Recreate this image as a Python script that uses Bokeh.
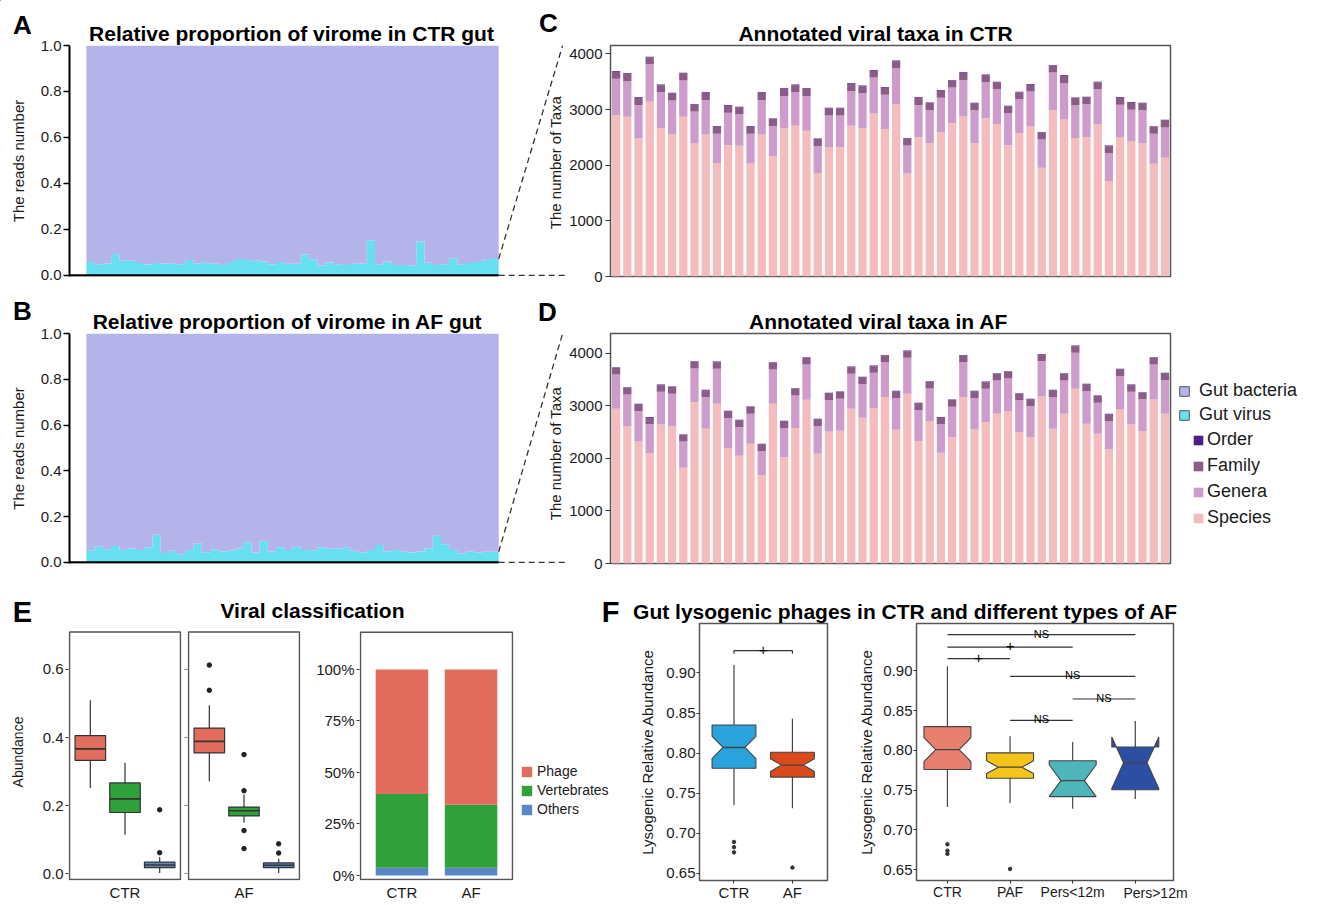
import math
from bokeh.plotting import figure
from bokeh.models import (Range1d, FixedTicker, NumeralTickFormatter, Legend, LegendItem, BoxAnnotation,
                          ColumnDataSource, CustomJSTickFormatter, GridBox)
from bokeh.layouts import row, column
from bokeh.embed import file_html
from bokeh.resources import INLINE
from bokeh.core.properties import value, field

FONT = "Liberation Sans"
TXT = "#1a1a1a"

# ===================== DATA =====================
# A / B : proportion of gut-virus reads per sample (remainder = gut bacteria)
virus_ctr = [0.059, 0.049, 0.052, 0.093, 0.064, 0.064, 0.054, 0.048, 0.054, 0.052,
             0.051, 0.049, 0.067, 0.052, 0.055, 0.052, 0.045, 0.059, 0.072, 0.067,
             0.064, 0.061, 0.049, 0.059, 0.051, 0.051, 0.091, 0.071, 0.043, 0.056,
             0.049, 0.046, 0.051, 0.052, 0.153, 0.049, 0.061, 0.046, 0.046, 0.042,
             0.148, 0.055, 0.046, 0.049, 0.075, 0.049, 0.054, 0.059, 0.068, 0.072]
virus_af = [0.051, 0.070, 0.058, 0.072, 0.055, 0.061, 0.055, 0.066, 0.121, 0.041,
            0.051, 0.036, 0.054, 0.083, 0.044, 0.057, 0.048, 0.051, 0.061, 0.088,
            0.044, 0.095, 0.048, 0.066, 0.054, 0.069, 0.054, 0.053, 0.066, 0.060,
            0.061, 0.064, 0.051, 0.044, 0.055, 0.076, 0.048, 0.054, 0.047, 0.044,
            0.048, 0.061, 0.117, 0.080, 0.054, 0.039, 0.048, 0.044, 0.047, 0.047]

# C / D : annotated viral taxa per sample
species_ctr = [2900, 2870, 2480, 3140, 2670, 2550, 2870, 2390, 2550, 2040,
               2360, 2350, 2030, 2550, 2160, 2660, 2710, 2620, 1850, 2320,
               2320, 2710, 2670, 2930, 2650, 3090, 1850, 2500, 2394, 2598,
               2755, 2875, 2394, 2845, 2737, 2358, 2580, 2695, 1955, 2989,
               2821, 2490, 2508, 2731, 1714, 2496, 2424, 2400, 2027, 2135]
genera_ctr = [653, 643, 603, 673, 643, 613, 653, 573, 623, 523,
              583, 563, 533, 623, 543, 583, 603, 623, 493, 573,
              573, 623, 623, 643, 613, 653, 503, 583, 597, 615,
              639, 657, 591, 645, 627, 573, 603, 627, 506, 675,
              657, 591, 585, 633, 501, 591, 573, 585, 537, 543]
family_ctr = [125, 125, 125, 125, 125, 125, 125, 125, 125, 125,
              125, 125, 125, 125, 125, 125, 125, 125, 125, 125,
              125, 125, 125, 125, 125, 125, 125, 125, 125, 125,
              125, 125, 125, 125, 125, 125, 125, 125, 125, 125,
              125, 125, 125, 125, 125, 125, 125, 125, 125, 125]
order_ctr = [12, 12, 12, 12, 12, 12, 12, 12, 12, 12,
             12, 12, 12, 12, 12, 12, 12, 12, 12, 12,
             12, 12, 12, 12, 12, 12, 12, 12, 12, 12,
             12, 12, 12, 12, 12, 12, 12, 12, 12, 12,
             12, 12, 12, 12, 12, 12, 12, 12, 12, 12]
species_af = [2943, 2614, 2323, 2101, 2646, 2614, 1823, 3070, 2563, 3038,
              2196, 2051, 2278, 1677, 3038, 2025, 2576, 3114, 2089, 2513,
              2525, 2943, 2772, 2956, 3165, 2544, 3228, 2329, 2709, 2108,
              2405, 3165, 2551, 2690, 2848, 2892, 2500, 2405, 3177, 2563,
              2848, 3323, 2658, 2468, 2171, 2930, 2646, 2519, 3120, 2848]
genera_af = [654, 603, 578, 547, 622, 616, 496, 641, 604, 667,
             572, 546, 572, 464, 654, 553, 622, 673, 527, 597,
             610, 667, 642, 673, 666, 604, 686, 591, 622, 540,
             578, 666, 597, 635, 635, 629, 603, 591, 673, 604,
             635, 686, 623, 591, 540, 636, 622, 603, 667, 642]
family_af = [125, 125, 125, 125, 125, 125, 125, 125, 125, 125,
             125, 125, 125, 125, 125, 125, 125, 125, 125, 125,
             125, 125, 125, 125, 125, 125, 125, 125, 125, 125,
             125, 125, 125, 125, 125, 125, 125, 125, 125, 125,
             125, 125, 125, 125, 125, 125, 125, 125, 125, 125]
order_af = [12, 12, 12, 12, 12, 12, 12, 12, 12, 12,
            12, 12, 12, 12, 12, 12, 12, 12, 12, 12,
            12, 12, 12, 12, 12, 12, 12, 12, 12, 12,
            12, 12, 12, 12, 12, 12, 12, 12, 12, 12,
            12, 12, 12, 12, 12, 12, 12, 12, 12, 12]

# E : viral classification boxplots (Phage, Vertebrates, Others)
classes = ["Phage", "Vertebrates", "Others"]
ctr_q1 = [0.333, 0.180, 0.018]
ctr_med = [0.367, 0.220, 0.026]
ctr_q3 = [0.406, 0.267, 0.034]
ctr_lo = [0.252, 0.115, 0.002]
ctr_hi = [0.510, 0.326, 0.049]
ctr_out_cls = [2, 2]
ctr_out_val = [0.062, 0.188]
af_q1 = [0.355, 0.170, 0.018]
af_med = [0.389, 0.185, 0.025]
af_q3 = [0.428, 0.196, 0.032]
af_lo = [0.272, 0.150, 0.002]
af_hi = [0.495, 0.233, 0.044]
af_out_cls = [0, 0, 1, 1, 1, 1, 2, 2]
af_out_val = [0.539, 0.613, 0.350, 0.244, 0.127, 0.074, 0.061, 0.088]
# E : stacked composition
groups_e = ["CTR", "AF"]
share_others = [0.037, 0.037]
share_vert = [0.359, 0.306]
share_phage = [0.604, 0.657]

# F left
f1_groups = ["CTR", "AF"]
f1_q1 = [0.781, 0.770]
f1_med = [0.807, 0.785]
f1_q3 = [0.835, 0.801]
f1_nlo = [0.793, 0.777]
f1_nhi = [0.821, 0.793]
f1_lo = [0.735, 0.731]
f1_hi = [0.910, 0.843]
f1_out_grp = [0, 0, 0, 1]
f1_out_val = [0.689, 0.6825, 0.676, 0.657]
f1_sig_from = [0]
f1_sig_to = [1]
f1_sig_y = [0.928]
f1_sig_text = ["+"]

# F right
f2_groups = ["CTR", "PAF", "Pers<12m", "Pers>12m"]
f2_q1 = [0.776, 0.765, 0.742, 0.7506]
f2_med = [0.801, 0.779, 0.762, 0.7846]
f2_q3 = [0.830, 0.797, 0.787, 0.8043]
f2_nlo = [0.786, 0.771, 0.742, 0.7523]
f2_nhi = [0.816, 0.787, 0.782, 0.8169]
f2_lo = [0.729, 0.734, 0.7267, 0.739]
f2_hi = [0.906, 0.818, 0.8106, 0.837]
f2_out_grp = [0, 0, 0, 1]
f2_out_val = [0.682, 0.674, 0.670, 0.651]
f2_sig_from = [0, 0, 0, 1, 2, 1]
f2_sig_to = [3, 2, 1, 3, 3, 2]
f2_sig_y = [0.9456, 0.930, 0.9154, 0.893, 0.8647, 0.8378]
f2_sig_text = ["NS", "+", "+", "NS", "NS", "NS"]

# ===================== STYLE =====================
LAV = "#B4B4EA"
CYAN = "#66DFF0"
C_SPE = "#F4BCBC"
C_GEN = "#CE9CCB"
C_FAM = "#8A5C86"
C_ORD = "#4F1E84"
C_PHA = "#E26D5F"
C_VER = "#2FA03A"
C_OTH = "#5A86C6"
F1_COL = ["#2AA3DC", "#DA4A1C"]
F2_COL = ["#E8806F", "#F4C41A", "#4EB6BA", "#2C4EA3"]
FRAME = "#555555"


def base_fig(w, h, xr, yr, left, right, top, bottom, xloc=None, yloc="left"):
    p = figure(width=w, height=h, x_range=xr, y_range=yr, output_backend="svg",
               toolbar_location=None, x_axis_location=xloc, y_axis_location=yloc,
               min_border_left=left, min_border_right=right,
               min_border_top=top, min_border_bottom=bottom)
    p.grid.visible = False
    p.outline_line_color = None
    p.background_fill_color = "white"
    p.border_fill_color = "white"
    return p


def style_axis(ax, size, tick_out, standoff, line=None, label_standoff=5, label_size=15):
    ax.major_label_text_font = FONT
    ax.major_label_text_font_size = f"{size}px"
    ax.major_label_text_color = TXT
    ax.major_tick_out = tick_out
    ax.major_tick_in = 0
    ax.minor_tick_out = 0
    ax.minor_tick_in = 0
    ax.major_tick_line_color = "#333333"
    ax.major_label_standoff = standoff
    ax.axis_line_color = line
    ax.axis_label_text_font = FONT
    ax.axis_label_text_font_size = f"{label_size}px"
    ax.axis_label_text_font_style = "normal"
    ax.axis_label_text_color = TXT
    ax.axis_label_standoff = label_standoff


def frame_box(p, left, right, bottom, top):
    p.add_layout(BoxAnnotation(left=left, right=right, bottom=bottom, top=top, fill_color=None,
                               fill_alpha=0, line_color=FRAME, line_alpha=1.0, line_width=1.5))


# ---------- A / B ----------
XA0, XA1 = -2.05, 58.1


def virome_panel(vir, top, fh, h):
    n = len(vir)
    p = base_fig(566, h, Range1d(XA0, XA1), Range1d(-0.0045, 1.0), 69, 1, top, h - top - fh)
    edges = list(range(n + 1))
    vir_s = vir + [vir[-1]]
    p.varea_step(x=edges, y1=[0.0] * (n + 1), y2=vir_s, step_mode="after", fill_color=CYAN)
    p.varea_step(x=edges, y1=vir_s, y2=[1.0] * (n + 1), step_mode="after", fill_color=LAV)
    p.segment(x0=[XA0], y0=[0], x1=[n], y1=[0], line_color="black", line_width=2.5)
    p.segment(x0=[n, n], y0=[0, vir[-1]], x1=[XA1, 57.75], y1=[0, 1.0],
              line_color="#333333", line_width=1.3, line_dash="6 4")
    ax = p.yaxis[0]
    ax.ticker = FixedTicker(ticks=[0, 0.2, 0.4, 0.6, 0.8, 1.0])
    ax.formatter = NumeralTickFormatter(format="0.0")
    style_axis(ax, 15, 6, 2, "black", 11, 15)
    ax.axis_line_width = 2
    ax.major_tick_line_color = "black"
    ax.major_tick_line_width = 1.5
    ax.axis_label = "The reads number"
    return p


figA = virome_panel(virus_ctr, 45, 231, 290)
figB = virome_panel(virus_af, 43, 230, 285)


# ---------- C / D ----------
def taxa_panel(sp, ge, fa, od, ymax, top, fh, h):
    p = base_fig(754, h, Range1d(0.5, 50.5), Range1d(0, ymax), 42, 150, top, h - top - fh)
    p.outline_line_color = FRAME
    p.outline_line_width = 1.5
    src = ColumnDataSource(dict(x=list(range(1, len(sp) + 1)), Species=sp, Genera=ge, Family=fa, Order=od))
    p.vbar_stack(["Species", "Genera", "Family", "Order"], x="x", width=0.74, source=src,
                 fill_color=[C_SPE, C_GEN, C_FAM, C_ORD], line_color=None)
    ax = p.yaxis[0]
    ax.ticker = FixedTicker(ticks=[0, 1000, 2000, 3000, 4000])
    style_axis(ax, 15, 5, 3, None)
    return p


figC = taxa_panel(species_ctr, genera_ctr, family_ctr, order_ctr, 4150, 45, 231, 290)
figD = taxa_panel(species_af, genera_af, family_af, order_af, 4375, 43, 230, 285)

# ---------- row 3 common geometry (all frames share top/bottom borders) ----------
H3, T3, B3 = 328, 48, 23

# ---------- E ----------
E_YR = (-0.0197, 0.7351)
E_BOX = (-0.0167, 0.71)
E_XR = (0.371, 3.629)
POS3 = [1, 2, 3]
BOXW = 0.88


def simple_boxes(p, q1, med, q3, lo, hi, out_cls, out_val):
    p.segment(x0=POS3, y0=q3, x1=POS3, y1=hi, line_color="#333333", line_width=1.2)
    p.segment(x0=POS3, y0=lo, x1=POS3, y1=q1, line_color="#333333", line_width=1.2)
    p.vbar(x=POS3, bottom=q1, top=q3, width=BOXW, fill_color=[C_PHA, C_VER, C_OTH],
           line_color="#333333", line_width=1.2)
    p.segment(x0=[c - BOXW / 2 for c in POS3], y0=med, x1=[c + BOXW / 2 for c in POS3], y1=med,
              line_color="#333333", line_width=1.6)
    p.scatter(x=[POS3[c] for c in out_cls], y=out_val, size=4.5, color="#222222")


def facet(w, left, right, q1, med, q3, lo, hi, out_cls, out_val, name, show_labels):
    p = base_fig(w, H3, Range1d(*E_XR), Range1d(*E_YR), left, right, T3, B3, "below", "left")
    frame_box(p, 0.4, 3.6, E_BOX[0], E_BOX[1])
    simple_boxes(p, q1, med, q3, lo, hi, out_cls, out_val)
    ay = p.yaxis[0]
    ay.ticker = FixedTicker(ticks=[0, 0.2, 0.4, 0.6])
    if show_labels:
        ay.formatter = NumeralTickFormatter(format="0.0")
        style_axis(ay, 15, 3, 2, None, 14, 14)
        ay.axis_label = "Abundance"
    else:
        ay.formatter = CustomJSTickFormatter(code="return ''")
        style_axis(ay, 15, 3, 0, None)
        ay.major_tick_line_color = "#888888"
    ax = p.xaxis[0]
    ax.ticker = FixedTicker(ticks=[2])
    ax.major_label_overrides = {2: name}
    style_axis(ax, 15, 0, 3, None, 0)
    return p


e1 = facet(184, 68, 3, ctr_q1, ctr_med, ctr_q3, ctr_lo, ctr_hi, ctr_out_cls, ctr_out_val, "CTR", True)
e2 = facet(129, 3, 13, af_q1, af_med, af_q3, af_lo, af_hi, af_out_cls, af_out_val, "AF", False)

e3 = base_fig(307, H3, Range1d(0.3856, 2.6144), Range1d(-0.0243, 1.2233), 45, 107, T3, B3, "below", "left")
frame_box(e3, 0.4, 2.6, -0.0194, 1.181)
src_e3 = ColumnDataSource(dict(x=[1, 2], Others=share_others, Vertebrates=share_vert, Phage=share_phage))
e3.vbar_stack(["Others", "Vertebrates", "Phage"], x="x", width=0.76, source=src_e3,
              fill_color=[C_OTH, C_VER, C_PHA], line_color=None)
ay = e3.yaxis[0]
ay.ticker = FixedTicker(ticks=[0, 0.25, 0.5, 0.75, 1.0])
ay.formatter = NumeralTickFormatter(format="0%")
style_axis(ay, 15, 3, 2, None)
ax = e3.xaxis[0]
ax.ticker = FixedTicker(ticks=[1, 2])
ax.major_label_overrides = {1: groups_e[0], 2: groups_e[1]}
style_axis(ax, 15, 0, 3, None, 0)


# ---------- F ----------
def notched(p, pos, q1, med, q3, nlo, nhi, lo, hi, colors, width=0.75):
    p.segment(x0=pos, y0=q3, x1=pos, y1=hi, line_color="#444444", line_width=1.2)
    p.segment(x0=pos, y0=lo, x1=pos, y1=q1, line_color="#444444", line_width=1.2)
    ind = 0.25 * width
    xs, ys, mx0, mx1 = [], [], [], []
    for i, c in enumerate(pos):
        a, b = c - width / 2, c + width / 2
        xs.append([a, a, a + ind, a, a, b, b, b - ind, b, b])
        ys.append([q3[i], nhi[i], med[i], nlo[i], q1[i], q1[i], nlo[i], med[i], nhi[i], q3[i]])
        mx0.append(a + ind)
        mx1.append(b - ind)
    p.patches(xs=xs, ys=ys, fill_color=colors, line_color="#444444", line_width=1.1)
    p.segment(x0=mx0, y0=med, x1=mx1, y1=med, line_color="#444444", line_width=1.3)


def f_axes(p, labels, lab_standoff, xsize):
    ay = p.yaxis[0]
    ay.ticker = FixedTicker(ticks=[0.65, 0.70, 0.75, 0.80, 0.85, 0.90])
    ay.formatter = NumeralTickFormatter(format="0.00")
    style_axis(ay, 15, 3, 1, None, lab_standoff, 15)
    ay.axis_label = "Lysogenic Relative Abundance"
    ax = p.xaxis[0]
    ax.ticker = FixedTicker(ticks=list(range(1, len(labels) + 1)))
    ax.major_label_overrides = {i + 1: g for i, g in enumerate(labels)}
    style_axis(ax, xsize, 3, 0, None, 0)


f1 = base_fig(230, H3, Range1d(0.41, 2.6), Range1d(0.6409, 0.9618), 79, 23, T3, B3, "below", "left")
f1.outline_line_color = FRAME
f1.outline_line_width = 1.5
pos1 = [1, 2]
notched(f1, pos1, f1_q1, f1_med, f1_q3, f1_nlo, f1_nhi, f1_lo, f1_hi, F1_COL)
f1.scatter(x=[pos1[g] for g in f1_out_grp], y=f1_out_val, size=3.5, color="#333333")
sx0 = [pos1[a] for a in f1_sig_from]
sx1 = [pos1[b] for b in f1_sig_to]
f1.segment(x0=sx0, y0=f1_sig_y, x1=sx1, y1=f1_sig_y, line_color="#333333", line_width=1.2)
f1.segment(x0=sx0 + sx1, y0=f1_sig_y + f1_sig_y, x1=sx0 + sx1, y1=[y - 0.004 for y in f1_sig_y] * 2,
           line_color="#333333", line_width=1.2)
sig1_src = ColumnDataSource(dict(x=[(a + b) / 2 for a, b in zip(sx0, sx1)], y=f1_sig_y, t=f1_sig_text))
f1.text(x="x", y="y", text="t", source=sig1_src, text_font=value(FONT), text_font_size="15px",
        text_align="center", text_baseline="alphabetic", text_color="black", y_offset=-1)
f_axes(f1, f1_groups, 7, 15)

f2 = base_fig(470, H3, Range1d(0.506, 4.61), Range1d(0.6365, 0.9596), 66, 147, T3, B3, "below", "left")
f2.outline_line_color = FRAME
f2.outline_line_width = 1.5
pos2 = [1, 2, 3, 4]
notched(f2, pos2, f2_q1, f2_med, f2_q3, f2_nlo, f2_nhi, f2_lo, f2_hi, F2_COL)
f2.scatter(x=[pos2[g] for g in f2_out_grp], y=f2_out_val, size=3.5, color="#333333")
tx0 = [pos2[a] for a in f2_sig_from]
tx1 = [pos2[b] for b in f2_sig_to]
f2.segment(x0=tx0, y0=f2_sig_y, x1=tx1, y1=f2_sig_y, line_color="#333333", line_width=1.2)
sig_src = ColumnDataSource(dict(x=[(a + b) / 2 for a, b in zip(tx0, tx1)], y=f2_sig_y, t=f2_sig_text,
                                fs=["11px" if t == "NS" else "15px" for t in f2_sig_text]))
f2.text(x="x", y="y", text="t", source=sig_src, text_font=value(FONT), text_font_size=field("fs"),
        text_align="center", text_baseline="alphabetic", text_color="black", y_offset=-1)
# the last group label sits right-shifted in the original; it is drawn on the overlay below
f_axes(f2, f2_groups[:3] + [""], 5, 14)

panels = column(row(figA, figC), row(figB, figD), row(e1, e2, e3, f1, f2))

# ---------- overlay: panel letters, titles, side labels, legends (page pixel space) ----------
bg = figure(width=1320, height=903, x_range=Range1d(0, 1320), y_range=Range1d(903, 0),
            output_backend="svg", toolbar_location=None, x_axis_location=None, y_axis_location=None,
            min_border=0, min_border_left=0, min_border_right=0, min_border_top=0, min_border_bottom=0)
bg.grid.visible = False
bg.outline_line_color = None
bg.background_fill_alpha = 0
bg.border_fill_alpha = 0

bg.text(x=[22, 22, 548, 547], y=[24, 310, 22, 311], text=["A", "B", "C", "D"],
        text_font=value(FONT), text_font_style="bold", text_font_size="26px",
        text_align="center", text_baseline="middle", text_color="black")
bg.text(x=[22, 610], y=[611, 611], text=["E", "F"],
        text_font=value(FONT), text_font_style="bold", text_font_size="29px",
        text_align="center", text_baseline="middle", text_color="black")
bg.text(x=[291, 287, 875, 878, 312, 905], y=[33, 321, 33, 321, 610, 611],
        text=["Relative proportion of virome in CTR gut", "Relative proportion of virome in AF gut",
              "Annotated viral taxa in CTR", "Annotated viral taxa in AF",
              "Viral classification", "Gut lysogenic phages in CTR and different types of AF"],
        text_font=value(FONT), text_font_style="bold", text_font_size="21px",
        text_align="center", text_baseline="middle", text_color="black")
bg.text(x=[555, 555], y=[162, 453], text=["The number of Taxa", "The number of Taxa"], angle=math.pi / 2,
        text_font=value(FONT), text_font_size="15px", text_align="center", text_baseline="middle",
        text_color=TXT)
bg.text(x=[1155], y=[892], text=[f2_groups[3]], text_font=value(FONT), text_font_size="14px",
        text_align="center", text_baseline="middle", text_color=TXT)

# legend proxies (kept outside the visible page area; only their legend swatches are shown)
PX, PY0, PY1 = [-100], [-120], [-110]
lg_bac = bg.vbar(x=PX, bottom=PY0, top=PY1, width=1, fill_color=LAV, line_color="#555555", line_width=1)
lg_vir = bg.vbar(x=PX, bottom=PY0, top=PY1, width=1, fill_color=CYAN, line_color="#555555", line_width=1)
lg_ord = bg.vbar(x=PX, bottom=PY0, top=PY1, width=1, fill_color=C_ORD, line_color=None)
lg_fam = bg.vbar(x=PX, bottom=PY0, top=PY1, width=1, fill_color=C_FAM, line_color=None)
lg_gen = bg.vbar(x=PX, bottom=PY0, top=PY1, width=1, fill_color=C_GEN, line_color=None)
lg_spe = bg.vbar(x=PX, bottom=PY0, top=PY1, width=1, fill_color=C_SPE, line_color=None)
lg_pha = bg.vbar(x=PX, bottom=PY0, top=PY1, width=1, fill_color=C_PHA, line_color=None)
lg_ver = bg.vbar(x=PX, bottom=PY0, top=PY1, width=1, fill_color=C_VER, line_color=None)
lg_oth = bg.vbar(x=PX, bottom=PY0, top=PY1, width=1, fill_color=C_OTH, line_color=None)


def make_legend(items, loc, size, gw, gh, spacing, standoff):
    return Legend(items=items, location=loc, orientation="vertical", glyph_width=gw, glyph_height=gh,
                  label_text_font=FONT, label_text_font_size=f"{size}px", label_text_color=TXT,
                  label_standoff=standoff, spacing=spacing, padding=0, margin=0,
                  border_line_color=None, background_fill_alpha=0, label_height=gh)


bg.add_layout(make_legend([LegendItem(label="Gut bacteria", renderers=[lg_bac]),
                           LegendItem(label="Gut virus", renderers=[lg_vir])],
                          (1178, 478), 18, 12, 12, 3, 9), "center")
bg.add_layout(make_legend([LegendItem(label="Order", renderers=[lg_ord]),
                           LegendItem(label="Family", renderers=[lg_fam]),
                           LegendItem(label="Genera", renderers=[lg_gen]),
                           LegendItem(label="Species", renderers=[lg_spe])],
                          (1192, 375), 18, 12, 12, 5, 3), "center")
bg.add_layout(make_legend([LegendItem(label="Phage", renderers=[lg_pha]),
                           LegendItem(label="Vertebrates", renderers=[lg_ver]),
                           LegendItem(label="Others", renderers=[lg_oth])],
                          (520, 86), 14, 13, 13, 3, 4), "center")

page = GridBox(children=[(panels, 0, 0), (bg, 0, 0)])
open("out.html", "w").write(file_html(page, INLINE, "Gut virome"))
